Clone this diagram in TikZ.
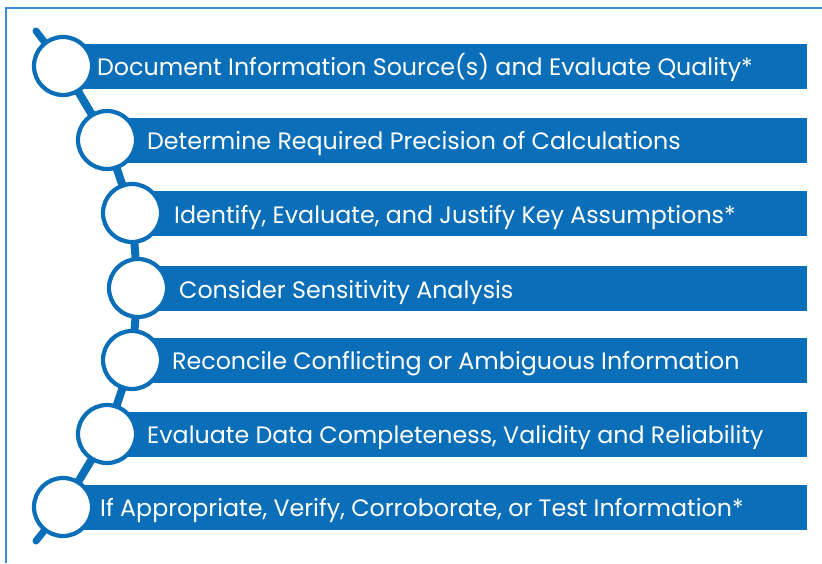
\documentclass[tikz,border=0pt]{standalone}
\usepackage{fontspec}
\setmainfont{Poppins}
\definecolor{barblue}{HTML}{0A6EB8}
\definecolor{frameblue}{HTML}{3A8DD0}
\begin{document}
\begin{tikzpicture}[x=1pt,y=-1pt,
  bar/.style={fill=barblue,draw=none},
  ring/.style={circle,draw=barblue,line width=4.2pt,fill=white,minimum size=58pt,inner sep=0pt},
  link/.style={draw=barblue,line width=8pt},
  stub/.style={draw=barblue,line width=7pt,line cap=round},
  label/.style={anchor=base west,text=white,font=\fontsize{23.75}{26}\selectfont,inner sep=0pt}]
\useasboundingbox (0,0) rectangle (822,563);
\draw[frameblue,line width=1.2pt] (6,563) -- (6,8) -- (822,8);
% circle centres
\coordinate (c1) at (63,66);
\coordinate (c2) at (107,140);
\coordinate (c3) at (132,213);
\coordinate (c4) at (138,288);
\coordinate (c5) at (132,360);
\coordinate (c6) at (107,434);
\coordinate (c7) at (63,507);
\coordinate (s1) at (36,31);
\coordinate (s2) at (36,541);
\draw[stub] (s1) -- (c1);
\draw[stub] (s2) -- (c7);
\draw[link] (c1) -- (c2) -- (c3) -- (c4) -- (c5) -- (c6) -- (c7);
% bars
\foreach \i/\y in {1/66,2/140,3/213,4/288,5/360,6/434,7/507}{
  \path[bar] (c\i) ++(0,-22.5) rectangle (807,\y+22.5);
}
% rings
\foreach \i in {1,...,7}{
  \node[ring] (r\i) at (c\i) {};
}
% labels
\node[label] (t1) at (97,75) {Document Information Source(s) and Evaluate Quality*};
\node[label] (t2) at (147,149) {Determine Required Precision of Calculations};
\node[label] (t3) at (174,223) {Identify, Evaluate, and Justify Key Assumptions*};
\node[label] (t4) at (179,298) {Consider Sensitivity Analysis};
\node[label] (t5) at (172,369) {Reconcile Conflicting or Ambiguous Information};
\node[label] (t6) at (147,443) {Evaluate Data Completeness, Validity and Reliability};
\node[label] (t7) at (100,516) {If Appropriate, Verify, Corroborate, or Test Information*};
\end{tikzpicture}
\end{document}
